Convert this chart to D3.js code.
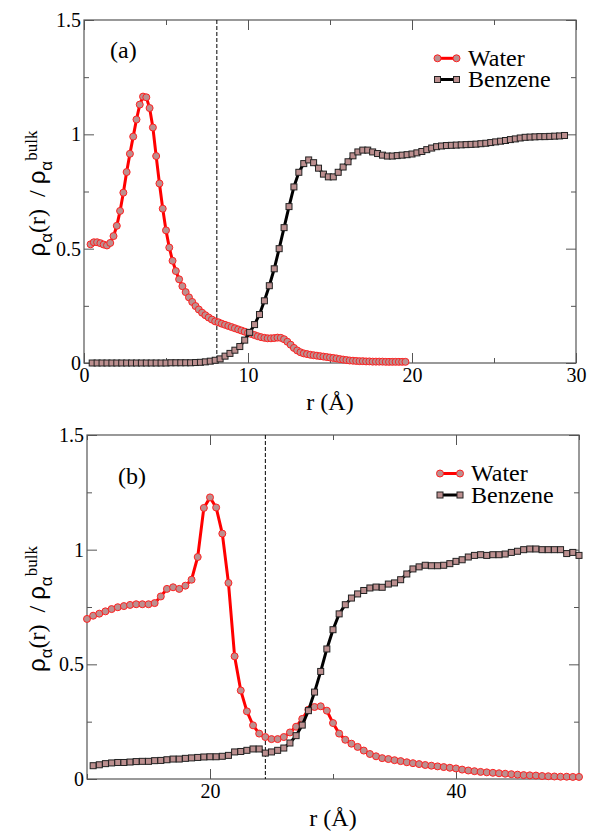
<!doctype html>
<html lang="en">
<head>
<meta charset="UTF-8">
<title>density profiles</title>
<script src="https://cdn.jsdelivr.net/npm/d3@7"></script>
<style>
  body { margin: 0; background: #fff; }
</style>
</head>
<body>
<script>
  // ---- data ----
  // panel (a): water sampled every 0.2 A from 0.4, benzene every 0.3 A from 0.5
  var waterA_r0 = 0.4, waterA_dr = 0.2;
  var waterA = [
    .519,.528,.528,.524,.518,.514,.525,.555,.600,.665,
    .745,.835,.915,.990,1.065,1.130,1.165,1.162,1.115,1.030,
    .905,.785,.675,.580,.505,.447,.402,.366,.336,.310,
    .287,.267,.249,.234,.220,.209,.199,.190,.182,.178,
    .172,.167,.162,.157,.152,.147,.142,.137,.132,.127,
    .122,.117,.113,.110,.108,.108,.109,.111,.110,.104,
    .093,.080,.066,.055,.047,.042,.039,.036,.034,.032,
    .030,.028,.026,.024,.022,.020,.017,.015,.013,.011,
    .010,.009,.008,.008,.007,.007,.006,.006,.006,.006,
    .005,.005,.005,.005,.005,.005,.005
  ];
  var benzA_r0 = 0.5, benzA_dr = 0.3;
  var benzA = [
    0,0,0,0,0,0,0,0,0,0,
    0,0,0,0,0,0,.001,.001,.001,.001,
    .001,.002,.003,.005,.008,.012,.018,.030,.042,.056,
    .072,.100,.134,.168,.212,.272,.338,.412,.500,.592,
    .684,.770,.834,.872,.888,.876,.852,.826,.814,.814,
    .834,.857,.880,.906,.923,.931,.931,.923,.916,.909,
    .905,.905,.907,.909,.911,.914,.919,.925,.933,.940,
    .946,.949,.951,.952,.953,.954,.955,.956,.957,.959,
    .961,.964,.967,.970,.973,.977,.980,.984,.987,.988,
    .989,.990,.990,.991,.992,.993,.995
  ];

  // panel (b): both every 0.5 A
  var waterB_r0 = 10, waterB_dr = 0.5;
  var waterB = [
    .698,.712,.721,.731,.741,.749,.754,.759,.762,.762,
    .762,.767,.796,.829,.836,.829,.843,.869,.968,1.182,
    1.228,1.184,1.070,.855,.535,.386,.295,.234,.198,.183,
    .174,.174,.183,.203,.228,.262,.302,.314,.317,.298,
    .244,.198,.171,.154,.140,.124,.109,.099,.091,.087,
    .082,.078,.073,.069,.065,.061,.058,.055,.052,.049,
    .046,.041,.037,.034,.031,.029,.027,.025,.023,.021,
    .019,.017,.016,.015,.013,.012,.011,.010,.010,.009,
    .009
  ];
  var benzB_r0 = 10.5, benzB_dr = 0.5;
  var benzB = [
    .058,.062,.067,.070,.072,.072,.074,.076,.077,.077,
    .080,.081,.084,.087,.087,.090,.092,.094,.096,.097,
    .097,.099,.103,.118,.120,.125,.131,.131,.113,.118,
    .125,.135,.157,.189,.235,.298,.379,.469,.567,.651,
    .720,.760,.789,.807,.822,.833,.837,.836,.850,.855,
    .869,.894,.916,.925,.932,.930,.930,.932,.939,.949,
    .956,.968,.975,.978,.975,.978,.978,.981,.988,.993,
    1.000,1.003,1.003,1.000,1.000,1.000,1.000,.983,.988,.975
  ];

  var seriesNames = ["Water", "Benzene"];
  var panelLabels = ["(a)", "(b)"];
  var cutoffs = [8.1, 24.5];
  var yMajor = [0, 0.5, 1, 1.5];
  var yMinor = [0.25, 0.75, 1.25];
  var xMajorA = [0, 10, 20, 30], xMinorA = [5, 15, 25];
  var xMajorB = [20, 40], xMinorB = [10, 30, 50];

  var width = 589, height = 831;
  var serif = "Liberation Serif";
  var sans = "Liberation Sans";
  var frameColor = "#555";
  var markFill = "#bc8f8f";

  var svg = d3.select("body").append("svg")
      .attr("width", width)
      .attr("height", height);
  svg.append("rect").attr("width", width).attr("height", height).attr("fill", "#fff");

  function styleAxis(sel) {
    sel.select(".domain").remove();
    sel.attr("font-family", serif).attr("font-size", 20);
    sel.selectAll("line").attr("stroke", frameColor);
    sel.selectAll("text").attr("fill", "#000").style("font-family", serif).style("font-size", "20px");
  }

  function drawPanel(p) {
    var x = d3.scaleLinear().domain(p.xDomain).range([p.left, p.right]);
    var y = d3.scaleLinear().domain([0, 1.5]).range([p.bottom, p.top]);
    var g = svg.append("g");

    // ticks, all pointing inwards
    g.append("g").attr("transform", "translate(0," + p.bottom + ")")
        .call(d3.axisBottom(x).tickValues(p.xMajor).tickSizeInner(-10).tickSizeOuter(0)
            .tickPadding(5).tickFormat(d3.format("d")))
        .call(styleAxis);
    g.append("g").attr("transform", "translate(0," + p.bottom + ")")
        .call(d3.axisBottom(x).tickValues(p.xMinor).tickSizeInner(-5).tickSizeOuter(0).tickFormat(""))
        .call(styleAxis);
    g.append("g").attr("transform", "translate(0," + p.top + ")")
        .call(d3.axisTop(x).tickValues(p.xMajor).tickSizeInner(-10).tickSizeOuter(0).tickFormat(""))
        .call(styleAxis);
    g.append("g").attr("transform", "translate(0," + p.top + ")")
        .call(d3.axisTop(x).tickValues(p.xMinor).tickSizeInner(-5).tickSizeOuter(0).tickFormat(""))
        .call(styleAxis);
    g.append("g").attr("transform", "translate(" + p.left + ",0)")
        .call(d3.axisLeft(y).tickValues(yMajor).tickSizeInner(-10).tickSizeOuter(0)
            .tickPadding(3).tickFormat(function(d) { return String(d); }))
        .call(styleAxis);
    g.append("g").attr("transform", "translate(" + p.left + ",0)")
        .call(d3.axisLeft(y).tickValues(yMinor).tickSizeInner(-5).tickSizeOuter(0).tickFormat(""))
        .call(styleAxis);
    g.append("g").attr("transform", "translate(" + p.right + ",0)")
        .call(d3.axisRight(y).tickValues(yMajor).tickSizeInner(-10).tickSizeOuter(0).tickFormat(""))
        .call(styleAxis);
    g.append("g").attr("transform", "translate(" + p.right + ",0)")
        .call(d3.axisRight(y).tickValues(yMinor).tickSizeInner(-5).tickSizeOuter(0).tickFormat(""))
        .call(styleAxis);

    // frame
    g.append("rect")
        .attr("x", p.left).attr("y", p.top)
        .attr("width", p.right - p.left).attr("height", p.bottom - p.top)
        .attr("fill", "none").attr("stroke", frameColor).attr("stroke-width", 1.2);

    // dashed cutoff line
    g.append("line")
        .attr("x1", x(p.cutoff)).attr("x2", x(p.cutoff))
        .attr("y1", p.top).attr("y2", p.bottom)
        .attr("stroke", "#000").attr("stroke-width", 1)
        .attr("stroke-dasharray", "4,2");

    // water
    var wLine = d3.line()
        .x(function(d, i) { return x(p.w0 + i * p.wd); })
        .y(function(d) { return y(d); });
    g.append("path").datum(p.water)
        .attr("d", wLine).attr("fill", "none")
        .attr("stroke", "#ff0000").attr("stroke-width", 3);
    g.selectAll(".wdot").data(p.water).enter().append("circle")
        .attr("cx", function(d, i) { return x(p.w0 + i * p.wd); })
        .attr("cy", function(d) { return y(d); })
        .attr("r", 3.5)
        .attr("fill", markFill).attr("stroke", "#ff2020").attr("stroke-width", 1);

    // benzene
    var bLine = d3.line()
        .x(function(d, i) { return x(p.b0 + i * p.bd); })
        .y(function(d) { return y(d); });
    g.append("path").datum(p.benz)
        .attr("d", bLine).attr("fill", "none")
        .attr("stroke", "#000").attr("stroke-width", 3);
    g.selectAll(".bdot").data(p.benz).enter().append("rect")
        .attr("x", function(d, i) { return x(p.b0 + i * p.bd) - 3; })
        .attr("y", function(d) { return y(d) - 3; })
        .attr("width", 6).attr("height", 6)
        .attr("fill", markFill).attr("stroke", "#222").attr("stroke-width", 1);

    // panel label
    g.append("text").attr("x", p.labX).attr("y", p.labY)
        .style("font-family", serif).style("font-size", "24px").text(p.label);

    // legend
    var lg = g.append("g");
    [0, 1].forEach(function(k) {
      var ly = p.legY[k];
      lg.append("line").attr("x1", p.legX0).attr("x2", p.legX1)
          .attr("y1", ly).attr("y2", ly)
          .attr("stroke", k === 0 ? "#ff0000" : "#000").attr("stroke-width", 3);
      [p.legX0, p.legX1].forEach(function(cx) {
        if (k === 0) {
          lg.append("circle").attr("cx", cx).attr("cy", ly).attr("r", 3.5)
              .attr("fill", markFill).attr("stroke", "#ff2020");
        } else {
          lg.append("rect").attr("x", cx - 3).attr("y", ly - 3).attr("width", 6).attr("height", 6)
              .attr("fill", markFill).attr("stroke", "#222");
        }
      });
      lg.append("text").attr("x", p.legTextX).attr("y", ly + 7.5)
          .style("font-family", serif).style("font-size", "24px").text(seriesNames[k]);
    });

    // axis titles
    g.append("text")
        .attr("x", (p.left + p.right) / 2).attr("y", p.bottom + 47)
        .attr("text-anchor", "middle")
        .style("font-family", serif).style("font-size", "24px")
        .text("r (\u00c5)");

    var yt = g.append("text")
        .attr("transform", "translate(45," + ((p.top + p.bottom) / 2 + 2) + ") rotate(-90)")
        .attr("text-anchor", "middle")
        .style("font-family", serif).style("font-size", "24px");
    yt.append("tspan").style("font-family", sans).text("\u03c1");
    yt.append("tspan").style("font-family", sans).style("font-size", "17px").attr("dy", 7).text("\u03b1");
    yt.append("tspan").attr("dy", -7).text("(r)\u00a0\u00a0/\u00a0");
    yt.append("tspan").style("font-family", sans).text("\u03c1");
    yt.append("tspan").style("font-family", sans).style("font-size", "17px").attr("dy", 7).text("\u03b1");
    yt.append("tspan").style("font-size", "17px").attr("dy", -15).text("bulk");
  }

  drawPanel({
    left: 84, right: 576, top: 20, bottom: 363,
    xDomain: [0, 30], xMajor: xMajorA, xMinor: xMinorA,
    water: waterA, w0: waterA_r0, wd: waterA_dr,
    benz: benzA, b0: benzA_r0, bd: benzA_dr,
    cutoff: cutoffs[0], label: panelLabels[0], labX: 110, labY: 58,
    legY: [58.3, 79.5], legX0: 437.5, legX1: 456.5, legTextX: 468
  });

  drawPanel({
    left: 87, right: 579, top: 435, bottom: 779,
    xDomain: [10, 50], xMajor: xMajorB, xMinor: xMinorB,
    water: waterB, w0: waterB_r0, wd: waterB_dr,
    benz: benzB, b0: benzB_r0, bd: benzB_dr,
    cutoff: cutoffs[1], label: panelLabels[1], labX: 118, labY: 484,
    legY: [473.5, 495], legX0: 440, legX1: 460, legTextX: 471
  });
</script>
</body>
</html>
